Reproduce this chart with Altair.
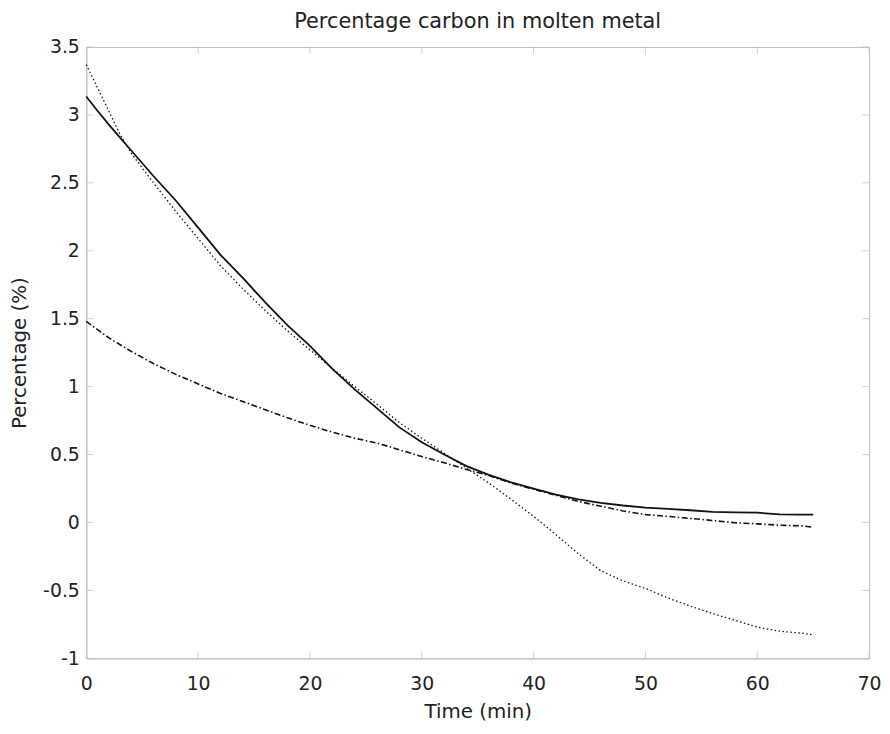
import altair as alt
import pandas as pd

# ---- data ----
time_min = [0, 1, 2, 3, 4, 6, 8, 10, 12, 14, 16, 18, 20, 22, 24, 26, 28, 30, 32,
            34, 36, 38, 40, 42, 44, 46, 48, 50, 52, 54, 56, 58, 60, 62, 64, 65]
solid_pct = [3.135, 3.03, 2.93, 2.835, 2.74, 2.55, 2.37, 2.17, 1.97, 1.80, 1.62,
             1.45, 1.30, 1.13, 0.98, 0.84, 0.70, 0.59, 0.50, 0.415, 0.35, 0.295,
             0.25, 0.205, 0.17, 0.145, 0.125, 0.11, 0.10, 0.09, 0.078, 0.075,
             0.072, 0.06, 0.058, 0.058]
dotted_pct = [3.37, 3.20, 3.03, 2.86, 2.72, 2.50, 2.29, 2.09, 1.89, 1.72, 1.56,
              1.41, 1.27, 1.135, 1.00, 0.87, 0.735, 0.62, 0.51, 0.40, 0.29, 0.17,
              0.045, -0.09, -0.23, -0.355, -0.43, -0.485, -0.555, -0.615, -0.67,
              -0.72, -0.77, -0.80, -0.815, -0.827]
dashdot_pct = [1.48, 1.42, 1.36, 1.31, 1.26, 1.17, 1.09, 1.02, 0.95, 0.89, 0.83,
               0.77, 0.715, 0.665, 0.62, 0.585, 0.535, 0.485, 0.44, 0.39, 0.345,
               0.29, 0.245, 0.20, 0.155, 0.12, 0.085, 0.058, 0.045, 0.03, 0.015,
               -0.002, -0.01, -0.02, -0.025, -0.035]
x_ticks = [0, 10, 20, 30, 40, 50, 60, 70]
y_ticks = [-1, -0.5, 0, 0.5, 1, 1.5, 2, 2.5, 3, 3.5]

FONT = "DejaVu Sans"
TXT = "#222222"
GREY = "#bdbdbd"
LABEL = "datum.value < 0 ? '-' + format(-datum.value, '~g') : format(datum.value, '~g')"

def xenc():
    return alt.X("t:Q", scale=alt.Scale(domain=[0, 70], nice=False, zero=False),
                 axis=alt.Axis(values=x_ticks, title="Time (min)", grid=False,
                               ticks=False, domainColor=GREY, labelFont=FONT,
                               labelFontSize=19, labelColor=TXT, labelPadding=16,
                               labelExpr=LABEL,
                               titleFont=FONT, titleFontSize=20, titleFontWeight="normal",
                               titleColor=TXT, titlePadding=9, labelFlush=False))

def yenc():
    return alt.Y("v:Q", scale=alt.Scale(domain=[-1, 3.5], nice=False, zero=False),
                 axis=alt.Axis(values=y_ticks, title="Percentage (%)", grid=False,
                               ticks=False, domainColor=GREY, labelFont=FONT,
                               labelFontSize=19, labelColor=TXT, labelPadding=7,
                               labelExpr=LABEL,
                               titleFont=FONT, titleFontSize=20, titleFontWeight="normal",
                               titleColor=TXT, titlePadding=13, labelFlush=False))

df_solid = pd.DataFrame({"t": time_min, "v": solid_pct})
df_dot = pd.DataFrame({"t": time_min, "v": dotted_pct})
df_dd = pd.DataFrame({"t": time_min, "v": dashdot_pct})

bottom = pd.DataFrame({"t": x_ticks, "v": [-1.0] * len(x_ticks)})
top = pd.DataFrame({"t": x_ticks, "v": [3.5] * len(x_ticks)})
left = pd.DataFrame({"t": [0.0] * len(y_ticks), "v": y_ticks})
right = pd.DataFrame({"t": [70.0] * len(y_ticks), "v": y_ticks})

tk = dict(color=GREY, thickness=1, size=7)
t_bottom = alt.Chart(bottom).mark_tick(orient="vertical", yOffset=-3.5, **tk).encode(x=xenc(), y=yenc())
t_top = alt.Chart(top).mark_tick(orient="vertical", yOffset=3.5, **tk).encode(x=xenc(), y=yenc())
t_left = alt.Chart(left).mark_tick(orient="horizontal", xOffset=3.5, **tk).encode(x=xenc(), y=yenc())
t_right = alt.Chart(right).mark_tick(orient="horizontal", xOffset=-3.5, **tk).encode(x=xenc(), y=yenc())

l_solid = alt.Chart(df_solid).mark_line(color="#111111", strokeWidth=1.8).encode(x=xenc(), y=yenc())
l_dot = alt.Chart(df_dot).mark_line(color="#111111", strokeWidth=1.3, strokeDash=[1.5, 2.5]).encode(x=xenc(), y=yenc())
l_dd = alt.Chart(df_dd).mark_line(color="#111111", strokeWidth=1.6, strokeDash=[6, 2.5, 1.5, 2.5]).encode(x=xenc(), y=yenc())

chart = alt.layer(t_bottom, t_top, t_left, t_right, l_dd, l_dot, l_solid).properties(
    width=790, height=617,
    title=alt.TitleParams("Percentage carbon in molten metal", font=FONT, fontSize=21,
                          fontWeight="normal", color=TXT, anchor="middle", offset=6),
    autosize=alt.AutoSizeParams(type="none"),
    padding={"left": 79, "top": 36, "right": 13, "bottom": 70},
    background="white",
).configure_view(stroke=GREY, strokeWidth=1)

chart.save("out.html", embed_options={"renderer": "svg", "actions": False})
